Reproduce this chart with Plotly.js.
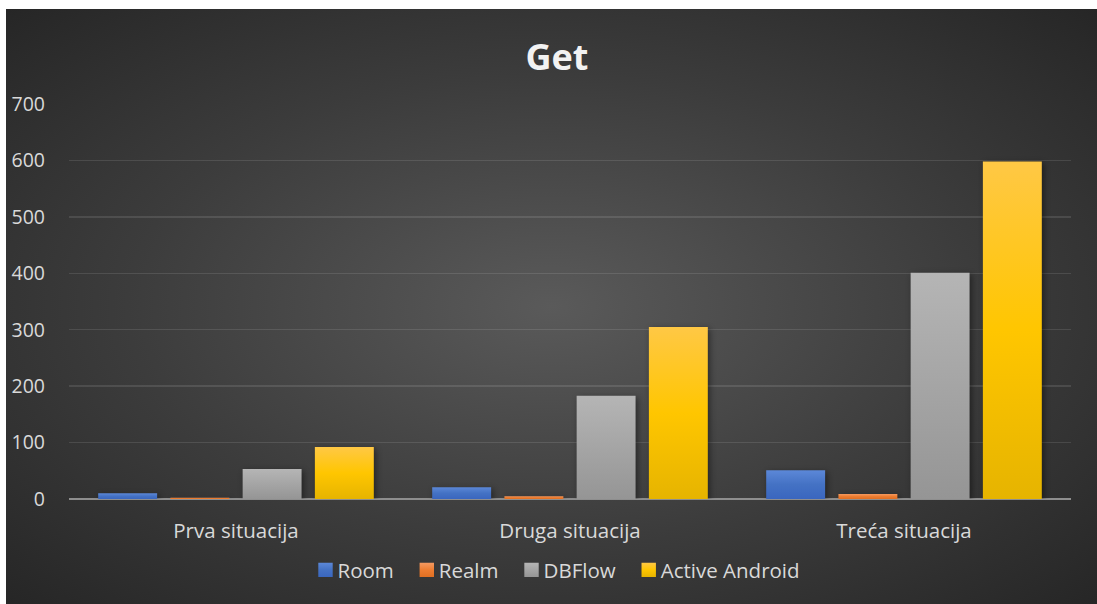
<!DOCTYPE html>
<html>
<head>
<meta charset="utf-8">
<script src="https://cdn.plot.ly/plotly-3.0.1.min.js"></script>
<style>
  html, body { margin: 0; padding: 0; background: #ffffff; }
  #chart {
    position: absolute; left: 6px; top: 9px; width: 1091px; height: 595px;
    background: radial-gradient(ellipse farthest-corner at 50% 50%, #5a5a5a 0%, #3c3c3c 55%, #262626 100%);
  }
  #chart .trace.bars path { filter: drop-shadow(2px 2px 3px rgba(0,0,0,0.45)); }
</style>
</head>
<body>
<div id="chart"></div>
<script>
const categories = ["Prva situacija", "Druga situacija", "Treća situacija"];
const seriesNames = ["Room", "Realm", "DBFlow", "Active Android"];
const room = [10, 21, 51];
const realm = [2, 5, 9];
const dbflow = [53, 183, 401];
const activeAndroid = [92, 305, 598];
const yTicks = [0, 100, 200, 300, 400, 500, 600, 700];

const colors = ["#4472C4", "#ED7D31", "#A5A5A5", "#FFC000"];
const gradients = [
  ["#5c88d8", "#4472C4", "#3a66bf"],
  ["#f49a62", "#ED7D31", "#e06f22"],
  ["#b5b5b5", "#A5A5A5", "#959595"],
  ["#ffc845", "#FFC600", "#e6b400"]
];
const values = [room, realm, dbflow, activeAndroid];

const font = "'Open Sans', 'Noto Sans', sans-serif";

const data = values.map((v, i) => ({
  type: "bar",
  name: seriesNames[i],
  x: categories,
  y: v,
  marker: { color: colors[i], line: { width: 0 } },
  hoverinfo: "none"
}));

const layout = {
  width: 1091,
  height: 595,
  paper_bgcolor: "rgba(0,0,0,0)",
  plot_bgcolor: "rgba(0,0,0,0)",
  margin: { l: 63, r: 26, t: 95, b: 105 },
  barmode: "group",
  bargap: 0.135,
  bargroupgap: 0.184,
  title: {
    text: "<b>Get</b>",
    font: { family: font, size: 36, color: "#f2f2f2" },
    xref: "container", x: 0.505, xanchor: "center",
    yref: "container", y: 0.918, yanchor: "middle"
  },
  xaxis: {
    type: "category",
    showgrid: false,
    showline: false,
    zeroline: false,
    ticks: "",
    tickfont: { family: font, size: 20.5, color: "#d9d9d9" },
    ticklabelstandoff: 17
  },
  yaxis: {
    range: [0, 700],
    tickvals: yTicks,
    ticktext: yTicks.map(String),
    showgrid: true,
    gridcolor: "rgba(255,255,255,0.11)",
    gridwidth: 1.5,
    zeroline: true,
    zerolinecolor: "#8e8e8e",
    zerolinewidth: 2.5,
    showline: false,
    ticks: "",
    tickfont: { family: font, size: 19.5, color: "#d9d9d9" },
    ticklabelstandoff: 23
  },
  showlegend: true,
  legend: {
    orientation: "h",
    xref: "container", x: 0.5, xanchor: "center",
    yref: "container", y: 0.057, yanchor: "middle",
    font: { family: font, size: 20.5, color: "#d9d9d9" },
    itemwidth: 30,
    bgcolor: "rgba(0,0,0,0)"
  }
};

Plotly.newPlot("chart", data, layout, { staticPlot: true, displayModeBar: false }).then(gd => {
  const svg = gd.querySelector("svg.main-svg");
  const ns = "http://www.w3.org/2000/svg";
  let defs = svg.querySelector("defs");
  if (!defs) { defs = document.createElementNS(ns, "defs"); svg.insertBefore(defs, svg.firstChild); }
  gradients.forEach((g, i) => {
    const lg = document.createElementNS(ns, "linearGradient");
    lg.setAttribute("id", "barGrad" + i);
    lg.setAttribute("x1", "0"); lg.setAttribute("y1", "0");
    lg.setAttribute("x2", "0"); lg.setAttribute("y2", "1");
    [0, 0.5, 1].forEach((off, k) => {
      const st = document.createElementNS(ns, "stop");
      st.setAttribute("offset", off);
      st.setAttribute("stop-color", g[k]);
      lg.appendChild(st);
    });
    defs.appendChild(lg);
  });
  gd.querySelectorAll(".barlayer .trace.bars").forEach((tr, i) => {
    tr.querySelectorAll("path").forEach(p => { p.style.fill = "url(#barGrad" + i + ")"; });
  });
  gd.querySelectorAll(".legend .traces").forEach((tr, i) => {
    tr.querySelectorAll(".legendpoints path").forEach(p => {
      p.style.fill = "url(#barGrad" + i + ")";
      const t = p.getAttribute("transform") || "";
      p.setAttribute("transform", t + " translate(8,0) scale(1.2)");
    });
  });
});
</script>
</body>
</html>
